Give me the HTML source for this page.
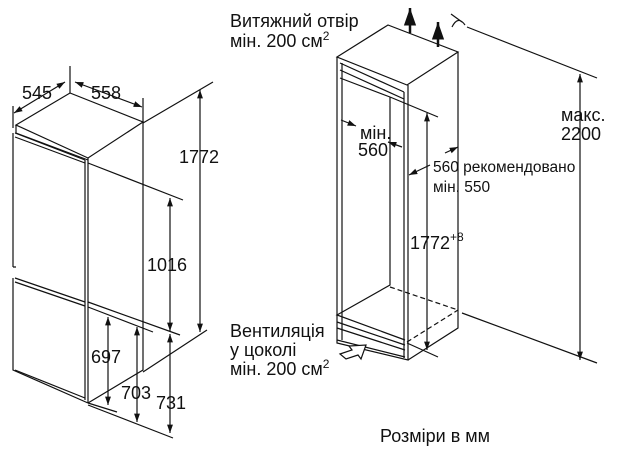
<!DOCTYPE html>
<html><head><meta charset="utf-8"><style>
html,body{margin:0;padding:0;background:#fff;}
svg{display:block;}
text{font-family:"Liberation Sans",sans-serif;fill:#111;}
</style></head><body>
<svg width="623" height="453" viewBox="0 0 623 453" xmlns="http://www.w3.org/2000/svg">
<defs>
<marker id="a" viewBox="0 0 10 10" refX="10" refY="5" markerWidth="7" markerHeight="7" orient="auto-start-reverse"><path d="M0,1.5 L10,5 L0,8.5 z" fill="#111"/></marker>
</defs>
<g stroke="#111" stroke-width="1.2" fill="none">
<!-- left fridge -->
<path d="M16,125 L70,93 L143,122 L88,158 Z" fill="#fff"/>
<path d="M16,125 L16,133 L88,160"/>
<path d="M13,133 L13,267 M13,278 L13,370 L88,403"/>
<path d="M15,133 L85,160 M15,137 L85,163"/>
<path d="M13,267 L16,267 M15,278 L85,302 M15,282 L85,306"/>
<path d="M15,370 L85,398"/>
<path d="M85,160 L85,400 M88,158 L88,403"/>
<path d="M88,403 L143,370 L143,122"/>
<!-- left dims -->
<path d="M13,106 L13,128 M70,66 L70,93 M143,98 L143,122"/>
<line x1="65" y1="82" x2="14" y2="113" marker-start="url(#a)" marker-end="url(#a)"/>
<line x1="75" y1="82" x2="142" y2="107" marker-start="url(#a)" marker-end="url(#a)"/>
<path d="M143,123 L213,82 M143,372 L207,330 M88,163 L183,200 M88,302 L180,335 M88,307 L153,332 M88,403 L117,412 M88,405 L173,438"/>
<line x1="200" y1="90" x2="200" y2="332" marker-start="url(#a)" marker-end="url(#a)"/>
<line x1="170" y1="198" x2="170" y2="331" marker-start="url(#a)" marker-end="url(#a)"/>
<line x1="170" y1="334" x2="170" y2="433" marker-start="url(#a)" marker-end="url(#a)"/>
<line x1="108" y1="317" x2="108" y2="405" marker-start="url(#a)" marker-end="url(#a)"/>
<line x1="137" y1="327" x2="137" y2="422" marker-start="url(#a)" marker-end="url(#a)"/>
<!-- cabinet -->
<path d="M337,57 L388,25 L458,52 L407,85 Z" fill="#fff"/>
<path d="M337,57 L337,343 L408,360 L408,85"/>
<path d="M408,360 L458,328 L458,52"/>
<path d="M340,63 L404,92 M340,70 L404,99 M340,78 L390,97"/>
<path d="M342,63 L342,340 M404,92 L404,358"/>
<path d="M390,97 L390,285 L337,315 L405,340"/>
<path d="M337,322 L405,345 M337,328 L405,350 M337,340 L405,357"/>
<path d="M390,287 L458,310 M407,342 L458,310" stroke-dasharray="5,3"/>
<!-- top arrows & symbol -->
<line x1="410" y1="33" x2="410" y2="8" stroke-width="2.5" marker-end="url(#a)"/>
<line x1="438" y1="47" x2="438" y2="22" stroke-width="2.5" marker-end="url(#a)"/>
<path d="M451,14 L462,22 M452,27 Q458,15 465,25"/>
<!-- vent arrow -->
<path d="M340,354 L352,350 L349,346 L366,345 L361,359 L358,355 L346,359 Z" fill="#fff"/>
<!-- cabinet dims -->
<path d="M467,27 L597,78 M462,313 L597,363 M390,97 L438,117 M407,343 L438,357"/>
<line x1="580" y1="74" x2="580" y2="360" marker-start="url(#a)" marker-end="url(#a)"/>
<line x1="427" y1="113" x2="427" y2="350" marker-start="url(#a)" marker-end="url(#a)"/>
<line x1="341" y1="120" x2="356" y2="126" marker-end="url(#a)"/>
<line x1="388" y1="142" x2="402" y2="147" marker-start="url(#a)"/>
<line x1="430" y1="165" x2="409" y2="175" marker-end="url(#a)"/>
<line x1="445" y1="153" x2="458" y2="147" marker-end="url(#a)"/>
</g>
<g font-size="18">
<text x="22" y="99">545</text>
<text x="91" y="99">558</text>
<text x="179" y="163">1772</text>
<text x="147" y="271">1016</text>
<text x="91" y="363">697</text>
<text x="121" y="399">703</text>
<text x="156" y="409">731</text>
<text x="230" y="27">Витяжний отвір</text>
<text x="230" y="47">мін. 200 см<tspan font-size="12" dy="-7">2</tspan></text>
<text x="230" y="337">Вентиляція</text>
<text x="230" y="356">у цоколі</text>
<text x="230" y="375">мін. 200 см<tspan font-size="12" dy="-7">2</tspan></text>
<text x="561" y="121">макс.</text>
<text x="561" y="140">2200</text>
<text x="360" y="139">мін.</text>
<text x="358" y="156">560</text>
<text x="410" y="249">1772<tspan font-size="12" dy="-8">+8</tspan></text>
<text x="380" y="442">Розміри в мм</text>
</g>
<g font-size="15.5">
<text x="433" y="172">560 рекомендовано</text>
<text x="433" y="192">мін. 550</text>
</g>
</svg>
</body></html>
